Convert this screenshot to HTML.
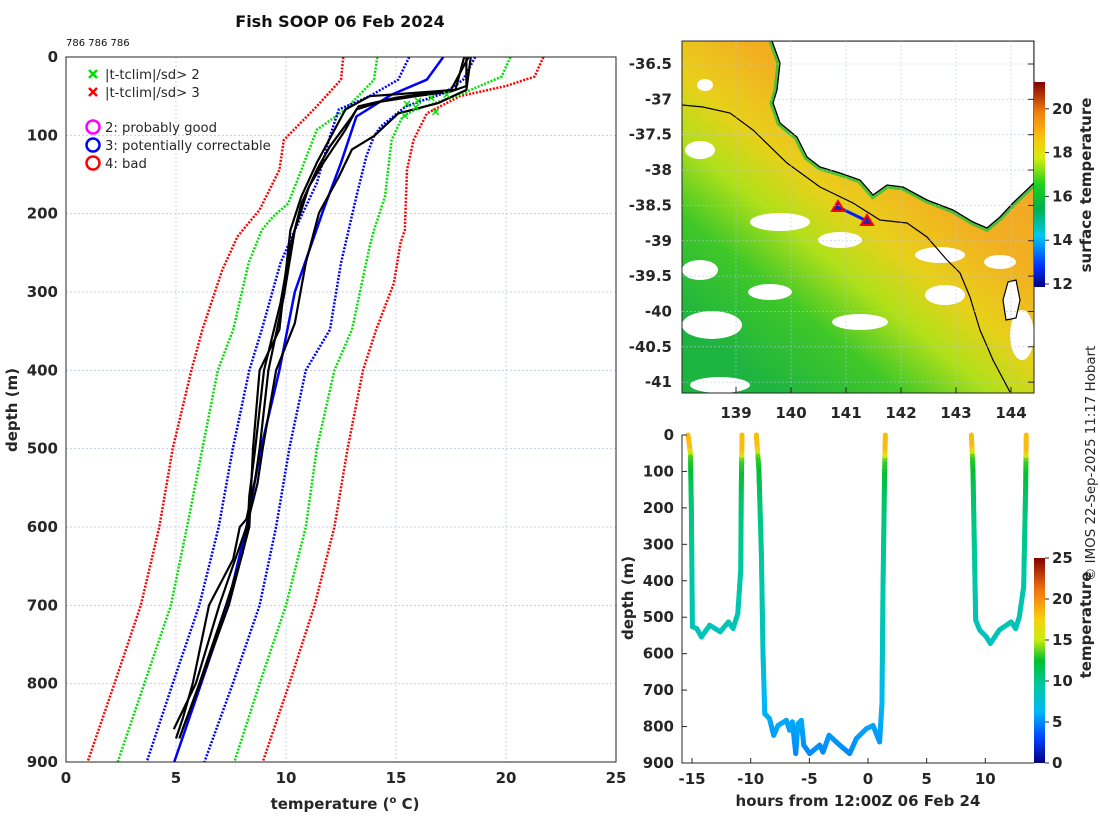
<!DOCTYPE html>
<html><head><meta charset="utf-8"><style>
body{margin:0;background:#fff;}
svg{display:block;font-family:"DejaVu Sans","Liberation Sans",sans-serif;}
.tk{font-size:15px;font-weight:bold;fill:#262626;}
.lb{font-size:15px;font-weight:bold;fill:#262626;}
.lg{font-size:13.2px;fill:#262626;}
</style></head><body>
<svg id="root" width="1100" height="820" viewBox="0 0 1100 820">
<rect width="1100" height="820" fill="#fff"/>
<text x="340" y="27" text-anchor="middle" font-size="16" font-weight="bold" fill="#111">Fish SOOP 06 Feb 2024</text>
<text x="66" y="46" font-size="10" fill="#111">786 786 786</text>

<g id="prof"></g>
<g id="map">
  <defs>
    <clipPath id="mapclip"><rect x="682" y="41" width="352" height="352"/></clipPath>
    <linearGradient id="sstg" x1="0.85" y1="0.15" x2="0.2" y2="0.95">
      <stop offset="0" stop-color="#f2a22a"/>
      <stop offset="0.3" stop-color="#f2b020"/>
      <stop offset="0.48" stop-color="#e8d01a"/>
      <stop offset="0.62" stop-color="#b0e01a"/>
      <stop offset="0.78" stop-color="#40c828"/>
      <stop offset="1" stop-color="#1eb440"/>
    </linearGradient>
    <linearGradient id="sstbar" x1="0" y1="1" x2="0" y2="0">
      <stop offset="0" stop-color="#00007f"/>
      <stop offset="0.1" stop-color="#0030ff"/>
      <stop offset="0.25" stop-color="#00c8f0"/>
      <stop offset="0.38" stop-color="#00b050"/>
      <stop offset="0.5" stop-color="#1ed01e"/>
      <stop offset="0.63" stop-color="#d8ec10"/>
      <stop offset="0.72" stop-color="#f8c810"/>
      <stop offset="0.85" stop-color="#f08010"/>
      <stop offset="1" stop-color="#800000"/>
    </linearGradient>
    <linearGradient id="tbar" x1="0" y1="1" x2="0" y2="0">
      <stop offset="0" stop-color="#00007f"/>
      <stop offset="0.12" stop-color="#0040ff"/>
      <stop offset="0.25" stop-color="#00b8f8"/>
      <stop offset="0.38" stop-color="#00c8a0"/>
      <stop offset="0.5" stop-color="#00c030"/>
      <stop offset="0.6" stop-color="#c8ec10"/>
      <stop offset="0.7" stop-color="#f8d010"/>
      <stop offset="0.85" stop-color="#f07010"/>
      <stop offset="1" stop-color="#800000"/>
    </linearGradient>
  </defs>
  <g clip-path="url(#mapclip)">
    <rect x="682" y="41" width="352" height="352" fill="url(#sstg)"/>
    <g fill="#fff">
      <ellipse cx="705" cy="85" rx="8" ry="6"/>
      <ellipse cx="700" cy="150" rx="15" ry="9"/>
      <ellipse cx="780" cy="222" rx="30" ry="9"/>
      <ellipse cx="840" cy="240" rx="22" ry="8"/>
      <ellipse cx="940" cy="255" rx="25" ry="8"/>
      <ellipse cx="700" cy="270" rx="18" ry="10"/>
      <ellipse cx="770" cy="292" rx="22" ry="8"/>
      <ellipse cx="712" cy="325" rx="30" ry="14"/>
      <ellipse cx="860" cy="322" rx="28" ry="8"/>
      <ellipse cx="945" cy="295" rx="20" ry="10"/>
      <ellipse cx="1022" cy="335" rx="12" ry="25"/>
      <ellipse cx="1000" cy="262" rx="16" ry="7"/>
      <ellipse cx="720" cy="385" rx="30" ry="8"/>
    </g>
    <path d="M772,41 L780,63 L777,90 L773,103 L780,123 L797,137 L807,157 L820,167 L840,173 L860,180 L873,195 L887,185 L903,187 L927,200 L953,210 L973,222 L987,228 L1000,217 L1013,203 L1034,183" fill="none" stroke="#28c040" stroke-width="7" opacity="0.8"/>
    <path d="M772,41 L780,63 L777,90 L773,103 L780,123 L797,137 L807,157 L820,167 L840,173 L860,180 L873,195 L887,185 L903,187 L927,200 L953,210 L973,222 L987,228 L1000,217 L1013,203 L1034,183 L1034,41 Z" fill="#fff" stroke="#000" stroke-width="1.3"/>
    <path d="M1008,282 L1016,280 L1020,300 L1016,318 L1006,320 L1003,300 Z" fill="#fff" stroke="#000" stroke-width="1.2"/>
    <path d="M682,105 L703,107 L730,113 L753,130 L787,163 L820,187 L853,203 L880,220 L907,223 L927,237 L947,260 L960,273 L970,297 L980,330 L993,360 L1010,392" fill="none" stroke="#000" stroke-width="1.2"/>
    <line x1="838" y1="207" x2="867" y2="221" stroke="#0020ff" stroke-width="3"/>
    <path d="M838,201 L844,211 L832,211 Z" fill="#2020c0" stroke="#f00" stroke-width="2"/>
    <path d="M867,215 L873,225 L861,225 Z" fill="#2020c0" stroke="#f00" stroke-width="2"/>
  </g>
  <rect x="682" y="41" width="352" height="352" fill="none" stroke="#262626" stroke-width="1"/>
  <rect x="1034" y="82" width="11" height="205" fill="url(#sstbar)"/>
  <text class="lb" transform="translate(1091,185) rotate(-90)" text-anchor="middle" font-size="14">surface temperature</text>
</g>
<g id="mapax"></g>
<g id="td"></g>
<text transform="translate(1095,581) rotate(-90)" font-size="13.4" fill="#262626">© IMOS 22-Sep-2025 11:17 Hobart</text>
</svg>
<script>
// ===== Profile plot data (depth m, temperature degC) =====
const climDepth = [0,29,48,76,135,195,300,400,500,600,700,800,900];
const meanT   = [17.15,16.4,14.8,13.2,12.5,11.7,10.4,9.7,8.86,8.2,7.35,6.14,4.92];
const lo3Depth = [0,29,63,106,144,195,229,272,348,400,500,600,700,800,900];
const lo3T     = [12.6,12.5,11.4,9.9,9.7,8.8,7.8,7.1,6.2,5.7,4.85,4.24,3.4,2.2,0.98];
const lo2Depth = [0,29,67,93,144,187,204,221,263,348,400,500,600,700,800,900];
const lo2T     = [14.15,14.0,12.7,11.4,10.7,10.1,9.4,8.9,8.3,7.6,6.9,6.2,5.5,4.77,3.56,2.35];
const lo1Depth = [0,29,50,67,101,161,221,263,348,400,500,600,700,800,900];
const lo1T     = [15.6,15.1,13.8,12.4,12.0,11.4,10.4,9.75,8.9,8.33,7.58,6.94,6.06,4.85,3.67];
const hi1Depth = [0,29,46,63,89,101,127,178,263,348,400,500,600,700,800,900];
const hi1T     = [18.6,18.05,17.2,15.45,14.3,14.0,13.65,13.2,12.5,12.0,10.9,10.15,9.55,8.8,7.58,6.29];
const hi2Depth = [0,25,48,67,76,106,178,221,242,348,400,500,600,700,800,900];
const hi2T     = [20.2,19.8,17.9,15.9,15.3,14.8,14.5,14.0,13.8,13.0,12.2,11.4,10.9,10.0,8.8,7.65];
const hi3Depth = [0,25,37,50,72,106,144,221,238,289,348,400,500,600,700,800,900];
const hi3T     = [21.7,21.3,20.0,17.9,16.4,15.8,15.5,15.4,15.2,14.9,14.1,13.5,12.8,12.2,11.3,10.15,8.94];
const p1Depth = [0,37,44,50,57,67,93,135,165,221,306,400,500,539,590,600,641,700,800,845,870];
const p1T     = [18.2,18.2,17.5,15.9,14.3,13.2,12.7,11.7,11.05,10.4,9.9,9.2,8.8,8.6,8.2,7.9,7.6,6.5,5.76,5.3,5.0];
const p2Depth = [0,42,52,63,76,114,144,187,242,314,400,500,560,600,633,700,800,870];
const p2T     = [18.3,17.5,15.0,13.3,13.0,12.0,11.4,10.7,10.2,9.75,9.0,8.6,8.33,8.26,8.03,7.27,6.06,5.15];
const p3Depth = [0,42,59,72,101,118,153,199,263,340,400,500,545,600,700,800,858];
const p3T     = [18.4,18.2,16.9,15.1,14.0,13.0,12.4,11.5,10.9,10.4,9.55,8.94,8.7,8.2,6.97,5.9,4.9];
const p4Depth = [0,42,50,67,135,178,221,348,400,500,600,700,800,858];
const p4T     = [18.1,17.7,13.8,12.7,11.4,10.7,10.2,9.7,8.8,8.5,8.33,7.4,6.1,5.3];
const flagDepth = [48,52,56,60,64,70,75];
const flagT     = [17.3,16.6,16.0,15.5,15.9,16.8,15.4];
const xTicks = [0,5,10,15,20,25];
const yTicks = [0,100,200,300,400,500,600,700,800,900];

const NS='http://www.w3.org/2000/svg';
function mk(tag,attrs,parent){const e=document.createElementNS(NS,tag);for(const k in attrs)e.setAttribute(k,attrs[k]);parent.appendChild(e);return e;}

const PX0=66,PX1=616,PY0=57,PY1=762;
const px=t=>PX0+(t/25)*(PX1-PX0);
const py=d=>PY0+(d/900)*(PY1-PY0);
const prof=document.getElementById('prof');
xTicks.forEach(t=>{
  const g=mk('line',{x1:px(t),x2:px(t),y1:PY0,y2:PY1,stroke:'#c8d0ec','stroke-dasharray':'2 2','stroke-width':1},prof);
  
  
  const l=mk('text',{x:px(t),y:PY1+21,'text-anchor':'middle',class:'tk'},prof);l.textContent=t;
  
  
});
yTicks.forEach(d=>{
  const g=mk('line',{x1:PX0,x2:PX1,y1:py(d),y2:py(d),stroke:'#c8d0ec','stroke-dasharray':'2 2','stroke-width':1},prof);
  
  
  const l=mk('text',{x:PX0-8,y:py(d)+5,'text-anchor':'end',class:'tk'},prof);l.textContent=d;
  
  
});
function line(ds,ts,color,dotted,w,name){
  const pts=ds.map((d,i)=>px(ts[i]).toFixed(1)+','+py(d).toFixed(1)).join(' ');
  const a={points:pts,fill:'none',stroke:color,'stroke-width':w,'stroke-linejoin':'round'};
  if(dotted)a['stroke-dasharray']='2 1.5';
  const e=mk('polyline',a,prof);
  
  
}
line(lo3Depth,lo3T,'#ff0000',true,2.5,'clim-minus-3sd');
line(hi3Depth,hi3T,'#ff0000',true,2.5,'clim-plus-3sd');
line(lo2Depth,lo2T,'#00e000',true,2.5,'clim-minus-2sd');
line(hi2Depth,hi2T,'#00e000',true,2.5,'clim-plus-2sd');
line(lo1Depth,lo1T,'#0000ff',true,2.5,'clim-minus-1sd');
line(hi1Depth,hi1T,'#0000ff',true,2.5,'clim-plus-1sd');
line(climDepth,meanT,'#0000ff',false,2.5,'clim-mean');
line(p1Depth,p1T,'#000',false,2.2,'profile-1');
line(p2Depth,p2T,'#000',false,2.2,'profile-2');
line(p3Depth,p3T,'#000',false,2.2,'profile-3');
line(p4Depth,p4T,'#000',false,2.2,'profile-4');
flagDepth.forEach((d,i)=>{
  const x=px(flagT[i]),y=py(d);
  const e=mk('path',{d:`M${x-3},${y-3}L${x+3},${y+3}M${x+3},${y-3}L${x-3},${y+3}`,stroke:'#00e000','stroke-width':1.5},prof);
  
  
});
mk('rect',{x:PX0,y:PY0,width:PX1-PX0,height:PY1-PY0,fill:'none',stroke:'#262626','stroke-width':1},prof);
const leg=mk('g',{},prof);


[[74,'#00e000','|t-tclim|/sd> 2'],[92,'#ff0000','|t-tclim|/sd> 3']].forEach(([y,c,t])=>{
  mk('path',{d:`M89,${y-4}L97,${y+4}M97,${y-4}L89,${y+4}`,stroke:c,'stroke-width':2.5},leg);
  const e=mk('text',{x:105,y:y+5,class:'lg'},leg);e.textContent=t;
  
  
});
[[127,'#ff00ff','2: probably good'],[145,'#0000ff','3: potentially correctable'],[163,'#ff0000','4: bad']].forEach(([y,c,t])=>{
  mk('circle',{cx:93,cy:y,r:6.5,fill:'none',stroke:c,'stroke-width':2.5},leg);
  const e=mk('text',{x:105,y:y+5,class:'lg'},leg);e.textContent=t;
  
  
});
const xl=mk('text',{x:345,y:809,'text-anchor':'middle',class:'lb'},prof);
xl.innerHTML='temperature (<tspan dy="-6" font-size="10">o</tspan><tspan dy="6"> C)</tspan>';


const yl=mk('text',{transform:'translate(17,410) rotate(-90)','text-anchor':'middle',class:'lb'},prof);
yl.textContent='depth (m)';



// ===== Map axes =====
const lonTicks=[139,140,141,142,143,144];
const latTicks=[-36.5,-37,-37.5,-38,-38.5,-39,-39.5,-40,-40.5,-41];
const sstTicks=[12,14,16,18,20];
const mapax=document.getElementById('mapax');
const mx=l=>736+(l-139)*55, my=l=>64+(-36.5-l)*70.7;
lonTicks.forEach(l=>{
  mk('line',{x1:mx(l),x2:mx(l),y1:41,y2:393,stroke:'#b8c4e8','stroke-dasharray':'2 2','stroke-width':0.8,opacity:0.7},mapax);
  mk('line',{x1:mx(l),x2:mx(l),y1:393,y2:387,stroke:'#262626'},mapax);
  const e=mk('text',{x:mx(l),y:418,'text-anchor':'middle',class:'tk'},mapax);e.textContent=l;
  
  
});
latTicks.forEach(l=>{
  mk('line',{x1:682,x2:1034,y1:my(l),y2:my(l),stroke:'#b8c4e8','stroke-dasharray':'2 2','stroke-width':0.8,opacity:0.7},mapax);
  mk('line',{x1:1034,x2:1028,y1:my(l),y2:my(l),stroke:'#262626'},mapax);
  const e=mk('text',{x:672,y:my(l)+5,'text-anchor':'end',class:'tk'},mapax);e.textContent=l;
  
  
});
sstTicks.forEach(t=>{
  const y=284-(t-12)*21.9;
  mk('line',{x1:1045,x2:1049,y1:y,y2:y,stroke:'#262626'},mapax);
  const e=mk('text',{x:1052,y:y+5,class:'tk'},mapax);e.textContent=t;
  
  
});

// ===== Time-depth plot =====
const seg1Hours=[-15.34,-15.14,-15.06,-14.97,-14.6,-14.2,-13.5,-12.6,-11.9,-11.5,-11.1,-10.85,-10.8,-10.74];
const seg1Depth=[0,50,200,526,531,554,522,540,513,531,490,371,142,0];
const seg2Hours=[-9.52,-9.3,-9.09,-8.95,-8.8,-8.4,-8.04,-7.67,-6.96,-6.68,-6.45,-6.16,-5.97,-5.68,-5.48,-4.97,-4.12,-3.84,-3.32,-2.41,-1.56,-0.99,-0.14,0.43,0.99,1.19,1.28,1.42,1.48];
const seg2Depth=[0,96,325,600,765,778,824,797,783,810,787,874,792,783,851,874,851,870,824,851,874,833,806,797,842,737,417,96,0];
const seg3Hours=[8.81,8.95,9.18,9.52,10.09,10.43,11.2,12.2,12.59,12.9,13.27,13.44,13.49];
const seg3Depth=[0,96,508,535,554,572,535,513,531,499,417,142,0];
const hourTicks=[-15,-10,-5,0,5,10];
const depthTicks=[0,100,200,300,400,500,600,700,800,900];
const tempTicks=[0,5,10,15,20,25];
const td=document.getElementById('td');
const TX0=682,TX1=1034,TY0=435,TY1=763;
const tx=h=>868+h*11.73, ty=d=>TY0+d*(TY1-TY0)/900;
const cmapPos=[0,0.12,0.25,0.38,0.5,0.6,0.7,0.85,1];
const cmapCol=[[0,0,127],[0,64,255],[0,184,248],[0,200,160],[0,192,48],[200,236,16],[248,208,16],[240,112,16],[128,0,0]];
function cmap(v){v=Math.max(0,Math.min(1,v));
  for(let i=1;i<cmapPos.length;i++){if(v<=cmapPos[i]){const f=(v-cmapPos[i-1])/(cmapPos[i]-cmapPos[i-1]);
    const c=cmapCol[i-1].map((a,k)=>Math.round(a+f*(cmapCol[i][k]-a)));return `rgb(${c[0]},${c[1]},${c[2]})`;}}
  return 'rgb(128,0,0)';}
function tempAt(d){for(let i=1;i<p1Depth.length;i++){if(d<=p1Depth[i]){const f=(d-p1Depth[i-1])/(p1Depth[i]-p1Depth[i-1]);return p1T[i-1]+f*(p1T[i]-p1T[i-1]);}}return p1T[p1T.length-1];}
function track(hs,ds,name){
  const g=mk('g',{},td);
  
  
  for(let i=1;i<hs.length;i++){
    const n=Math.max(1,Math.ceil(Math.abs(ds[i]-ds[i-1])/10));
    for(let k=0;k<n;k++){
      const a=k/n,b=(k+1)/n;
      const d0=ds[i-1]+a*(ds[i]-ds[i-1]),d1=ds[i-1]+b*(ds[i]-ds[i-1]);
      const h0=hs[i-1]+a*(hs[i]-hs[i-1]),h1=hs[i-1]+b*(hs[i]-hs[i-1]);
      mk('line',{x1:tx(h0),y1:ty(d0),x2:tx(h1),y2:ty(d1),stroke:cmap(tempAt((d0+d1)/2)/25),'stroke-width':5,'stroke-linecap':'round'},g);
    }
  }
}
track(seg1Hours,seg1Depth,'track-segment-1');
track(seg2Hours,seg2Depth,'track-segment-2');
track(seg3Hours,seg3Depth,'track-segment-3');
mk('path',{d:`M${TX0},${TY0}L${TX0},${TY1}L${TX1},${TY1}`,fill:'none',stroke:'#262626'},td);
hourTicks.forEach(h=>{
  mk('line',{x1:tx(h),x2:tx(h),y1:TY1,y2:TY1-5,stroke:'#262626'},td);
  const e=mk('text',{x:tx(h),y:TY1+21,'text-anchor':'middle',class:'tk'},td);e.textContent=h;
  
  
});
depthTicks.forEach(d=>{
  mk('line',{x1:TX0,x2:TX0+5,y1:ty(d),y2:ty(d),stroke:'#262626'},td);
  const e=mk('text',{x:674,y:ty(d)+5,'text-anchor':'end',class:'tk'},td);e.textContent=d;
  
  
});
const cb=mk('rect',{x:1034,y:558,width:11,height:205,fill:'url(#tbar)'},td);


tempTicks.forEach(t=>{
  const y=763-t*8.2;
  mk('line',{x1:1045,x2:1049,y1:y,y2:y,stroke:'#262626'},td);
  const e=mk('text',{x:1052,y:y+5,class:'tk'},td);e.textContent=t;
  
  
});
const tl=mk('text',{transform:'translate(1091,625) rotate(-90)','text-anchor':'middle',class:'lb','font-size':14},td);
tl.textContent='temperature';


const hx=mk('text',{x:858,y:806,'text-anchor':'middle',class:'lb'},td);
hx.textContent='hours from 12:00Z 06 Feb 24';


const dy=mk('text',{transform:'translate(633,598) rotate(-90)','text-anchor':'middle',class:'lb'},td);
dy.textContent='depth (m)';


</script>
</body></html>
